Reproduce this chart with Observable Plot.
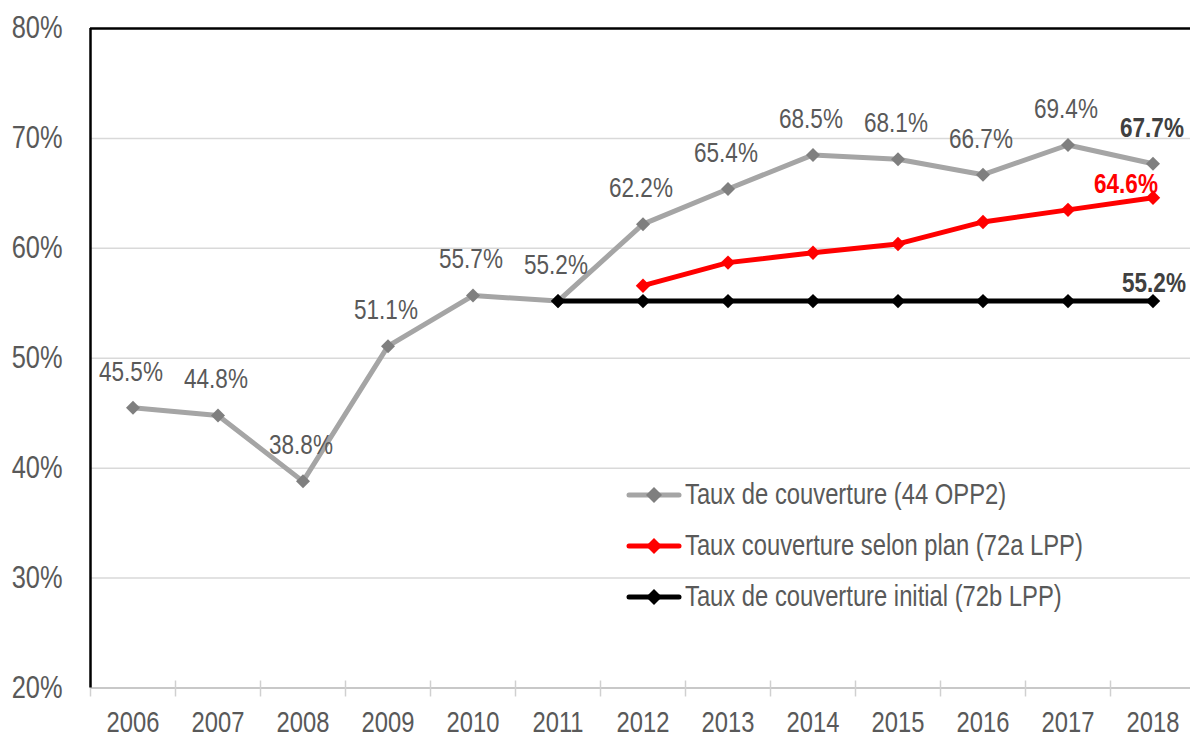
<!DOCTYPE html>
<html>
<head>
<meta charset="utf-8">
<script src="https://cdn.jsdelivr.net/npm/d3@7"></script>
<script src="https://cdn.jsdelivr.net/npm/@observablehq/plot@0.6"></script>
<style>
  html, body { margin: 0; padding: 0; background: #fff; }
  #wrap { position: relative; width: 1190px; height: 738px; overflow: hidden; }
  #legend { position: absolute; left: 626px; top: 469px; font-family: "Liberation Sans", Arial, sans-serif; font-size: 29px; color: #595959; }
  .row { display: flex; align-items: center; height: 51px; white-space: nowrap; }
  .row svg { flex: none; margin-right: 3px; }
  .row span { display: inline-block; transform: scaleX(0.82); transform-origin: left center; }
</style>
</head>
<body>
<div id="wrap">
  <div id="chart"></div>
  <div id="legend"></div>
</div>
<script>
const years = [2006, 2007, 2008, 2009, 2010, 2011, 2012, 2013, 2014, 2015, 2016, 2017, 2018];
const tauxCouverture = [45.5, 44.8, 38.8, 51.1, 55.7, 55.2, 62.2, 65.4, 68.5, 68.1, 66.7, 69.4, 67.7];
const planYears = [2012, 2013, 2014, 2015, 2016, 2017, 2018];
const tauxPlan = [56.6, 58.7, 59.6, 60.4, 62.4, 63.5, 64.6];
const initialYears = [2011, 2012, 2013, 2014, 2015, 2016, 2017, 2018];
const tauxInitial = [55.2, 55.2, 55.2, 55.2, 55.2, 55.2, 55.2, 55.2];
const yTicks = [20, 30, 40, 50, 60, 70, 80];
const seriesNames = ["Taux de couverture (44 OPP2)", "Taux couverture selon plan (72a LPP)", "Taux de couverture initial (72b LPP)"];
const seriesLine = ["#a5a5a5", "#ff0000", "#000000"];
const seriesMark = ["#7f7f7f", "#ff0000", "#000000"];

const gray = years.map((y, i) => ({year: y, v: tauxCouverture[i]}));
const plan = planYears.map((y, i) => ({year: y, v: tauxPlan[i]}));
const init = initialYears.map((y, i) => ({year: y, v: tauxInitial[i]}));
const bounds = d3.range(years.length + 1).map(i => years[0] - 0.5 + i);
const fmt = v => v.toFixed(1) + "%";
const font = '"Liberation Sans", Arial, sans-serif';

const chart = Plot.plot({
  width: 1190,
  height: 738,
  marginLeft: 90, marginRight: 0, marginTop: 28, marginBottom: 51,
  style: {fontFamily: font, background: "#fff", overflow: "visible"},
  x: {domain: [years[0] - 0.5, years[years.length - 1] + 0.5], range: [90, 1195], axis: null},
  y: {domain: [20, 80], range: [687.5, 28], axis: null},
  marks: [
    Plot.ruleY(yTicks.filter(t => t > 20 && t < 80), {stroke: "#d9d9d9", strokeWidth: 1.5}),
    Plot.ruleY([20], {stroke: "#c8c8c8", strokeWidth: 2}),
    Plot.ruleX(bounds, {y1: 20, y2: 20, insetTop: -7, insetBottom: -9, stroke: "#d0d0d0", strokeWidth: 1.5}),
    Plot.ruleY([80], {stroke: "#000", strokeWidth: 2.5}),
    Plot.ruleX([years[0] - 0.5], {y1: 20, y2: 80, stroke: "#000", strokeWidth: 2.5}),
    Plot.text(yTicks, {x: years[0] - 0.5, y: d => d, text: d => d + "%", textAnchor: "end", dx: -28, fontSize: 31, fill: "#595959"}),
    Plot.text(years, {x: d => d, y: 20, text: d => String(d), dy: 34.5, fontSize: 29, fill: "#595959"}),
    Plot.line(gray, {x: "year", y: "v", stroke: seriesLine[0], strokeWidth: 5}),
    Plot.dot(gray, {x: "year", y: "v", symbol: "diamond2", r: 6.3, fill: seriesMark[0]}),
    Plot.line(plan, {x: "year", y: "v", stroke: seriesLine[1], strokeWidth: 5}),
    Plot.dot(plan, {x: "year", y: "v", symbol: "diamond2", r: 6.5, fill: seriesMark[1]}),
    Plot.line(init, {x: "year", y: "v", stroke: seriesLine[2], strokeWidth: 5}),
    Plot.dot(init, {x: "year", y: "v", symbol: "diamond2", r: 6.5, fill: seriesMark[2]}),
    Plot.text(gray.slice(0, -1), {x: "year", y: "v", text: d => fmt(d.v), dx: -2, dy: -36, fontSize: 27.5, fill: "#595959"}),
    Plot.text(gray.slice(-1), {x: "year", y: "v", text: d => fmt(d.v), dx: -1, dy: -36, fontSize: 27.5, fill: "#404040", fontWeight: "bold"}),
    Plot.text(plan.slice(-1), {x: "year", y: "v", text: d => fmt(d.v), dx: -27, dy: -14, fontSize: 27.5, fill: "#ff0000", fontWeight: "bold"}),
    Plot.text(init.slice(-1), {x: "year", y: "v", text: d => fmt(d.v), dx: 1, dy: -18, fontSize: 27.5, fill: "#404040", fontWeight: "bold"})
  ]
});
document.getElementById("chart").appendChild(chart);

// condense text horizontally (narrow face look), keeping each text's anchor point in place
chart.querySelectorAll("text").forEach(t => {
  const b = t.getBBox();
  if (!(b.width > 0)) return;
  const anchor = getComputedStyle(t).textAnchor || "start";
  const ax = anchor === "middle" ? b.x + b.width / 2 : anchor === "end" ? b.x + b.width : b.x;
  const prev = t.getAttribute("transform") || "";
  t.setAttribute("transform", `${prev} translate(${ax.toFixed(2)},0) scale(0.82,1) translate(${(-ax).toFixed(2)},0)`.trim());
});

const legend = document.getElementById("legend");
seriesNames.forEach((name, i) => {
  const row = document.createElement("div");
  row.className = "row";
  row.innerHTML = `<svg width="56" height="20"><line x1="3" y1="10" x2="53" y2="10" stroke="${seriesLine[i]}" stroke-width="5" stroke-linecap="round"/><path d="M28 2 L36 10 L28 18 L20 10 Z" fill="${seriesMark[i]}"/></svg><span>${name}</span>`;
  legend.appendChild(row);
});
</script>
</body>
</html>
